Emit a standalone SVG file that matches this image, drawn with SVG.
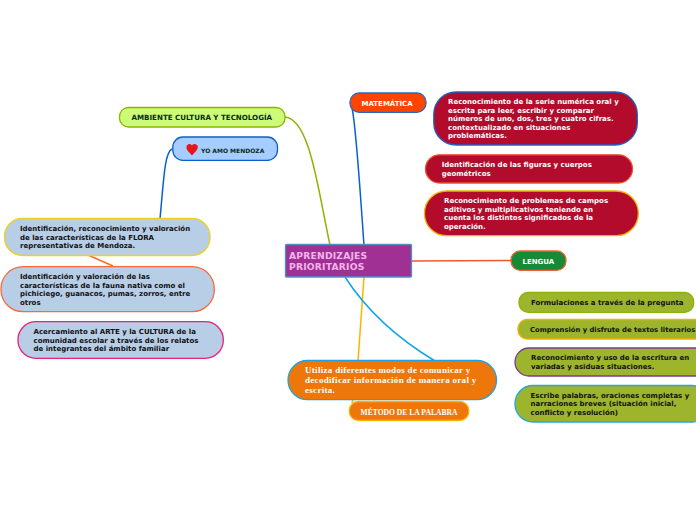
<svg xmlns="http://www.w3.org/2000/svg" width="696" height="520" viewBox="0 0 696 520">
<style>
text{font-family:"DejaVu Sans",Verdana,sans-serif;font-weight:bold;font-size:7px}
.s{font-family:"Liberation Serif","Times New Roman",serif}
.w{fill:#fff}.d{fill:#0a2a1e}.k{fill:#111}
.c{fill:none;stroke-width:1.500}
.n{stroke-width:1.300}
.blue{fill:#b8cde6}.red{fill:#b20b2c}.ol{fill:#9db52c}.or{fill:#ee770c}
</style>
<rect width="696" height="520" fill="#fff"/>
<g id="connectors">
<path class="c" stroke="#8cb400" d="M285 117C310 119 318 190 330 245"/>
<path class="c" stroke="#0a5fd0" d="M172 149C165 152 164 175 160 219"/>
<path class="c" stroke="#ff6a2a" d="M88 255L113 266"/>
<path class="c" stroke="#0a5fd0" d="M352 108C356 125 360 190 364 245"/>
<path class="c" stroke="#f05a28" d="M411 261L511 260.500"/>
<path class="c" stroke="#ffb300" d="M364 277L358 361"/>
<path class="c" stroke="#ffb300" d="M353 399L352 403"/>
<path class="c" stroke="#12a5e6" d="M345 277C365 308 395 337 435 361"/>
</g>
<g id="central"><rect class="n" x="285.500" y="244.500" width="126" height="32.500" rx="1" fill="#a03094" stroke="#4f8fc8"/>
<text x="289" y="258.500" style="font-size:9.200px" fill="#f3b4ea" letter-spacing=".2">APRENDIZAJES</text><text x="289" y="269.500" style="font-size:9.200px" fill="#f3b4ea" letter-spacing=".2">PRIORITARIOS</text></g>
<g id="ambiente"><rect class="n" x="119.500" y="107.500" width="165.500" height="19.500" rx="9" fill="#ccfb78" stroke="#8cb400"/>
<text class="d" x="131.500" y="120" style="font-size:7.100px">AMBIENTE CULTURA Y TECNOLOGÍA</text></g>
<g id="yoamo"><rect class="n" x="172.800" y="137" width="104.700" height="23.300" rx="10" fill="#a6cdfd" stroke="#0a5fd0"/>
<path d="M192 155.500C189 152 186 150 186.500 146.500C187.200 143.500 190.500 143.200 192 145.500C193.500 143.200 197 143.500 197.800 146.500C198 150 195 152 192 155.500Z" fill="#e8141c"/>
<text class="d" x="201" y="152.500" style="font-size:6px">YO AMO MENDOZA</text></g>
<g id="flora"><rect class="n blue" x="4.500" y="218.500" width="205.500" height="37" rx="18" stroke="#ecd21c"/>
<text class="k"><tspan x="20" y="231">Identificación, reconocimiento y valoración</tspan><tspan x="20" y="240">de las características de la FLORA</tspan><tspan x="20" y="248">representativas de Mendoza.</tspan></text></g>
<g id="fauna"><rect class="n blue" x="1" y="266.700" width="213.300" height="45" rx="22" stroke="#f5693a"/>
<text class="k"><tspan x="20" y="279">Identificación y valoración de las</tspan><tspan x="20" y="288">características de la fauna nativa como el</tspan><tspan x="20" y="296">pichiciego, guanacos, pumas, zorros, entre</tspan><tspan x="20" y="305">otros</tspan></text></g>
<g id="arte"><rect class="n blue" x="18" y="321.700" width="205.300" height="36.600" rx="18" stroke="#e8207c"/>
<text class="k"><tspan x="33.500" y="334">Acercamiento al ARTE y la CULTURA de la</tspan><tspan x="33.500" y="343">comunidad escolar a través de los relatos</tspan><tspan x="33.500" y="351">de integrantes del ámbito familiar</tspan></text></g>
<g id="matematica"><rect class="n" x="350" y="93" width="76" height="19.300" rx="9" fill="#ff4400" stroke="#2a68c0"/>
<text class="w" x="361.500" y="105.500">MATEMÁTICA</text></g>
<g id="m1"><rect class="n red" x="433.800" y="92" width="203.500" height="53" rx="22" stroke="#1f5fc8"/>
<text class="w"><tspan x="448" y="104">Reconocimiento de la serie numérica oral y</tspan><tspan x="448" y="113">escrita para leer, escribir y comparar</tspan><tspan x="448" y="121">números de uno, dos, tres y cuatro cifras.</tspan><tspan x="448" y="130">contextualizado en situaciones</tspan><tspan x="448" y="138">problemáticas.</tspan></text></g>
<g id="m2"><rect class="n red" x="425.500" y="154.800" width="207" height="28.200" rx="14" stroke="#f0502a"/>
<text class="w"><tspan x="441.700" y="167">Identificación de las figuras y cuerpos</tspan><tspan x="441.700" y="176">geométricos</tspan></text></g>
<g id="m3"><rect class="n red" x="424.500" y="191" width="213.800" height="44.700" rx="22" stroke="#f2b100"/>
<text class="w"><tspan x="444" y="203">Reconocimiento de problemas de campos</tspan><tspan x="444" y="212">aditivos y multiplicativos teniendo en</tspan><tspan x="444" y="220">cuenta los distintos significados de la</tspan><tspan x="444" y="229">operación.</tspan></text></g>
<g id="lengua"><rect class="n" x="511" y="251" width="55" height="19.300" rx="9" fill="#178a36" stroke="#f5603a"/>
<text class="w" x="522.500" y="263.500">LENGUA</text></g>
<g id="l1"><rect class="n ol" x="519" y="292.500" width="174.700" height="19.800" rx="9" stroke="#8cb400"/>
<text class="k" x="531" y="305">Formulaciones a través de la pregunta</text></g>
<g id="l2"><rect class="n ol" x="518" y="319.500" width="190" height="19.500" rx="9" stroke="#f2b100"/>
<text class="k" x="530" y="332" style="font-size:6.800px">Comprensión y disfrute de textos literarios</text></g>
<g id="l3"><rect class="n ol" x="515" y="348" width="195" height="28" rx="14" stroke="#7a3a90"/>
<text class="k"><tspan x="531" y="360">Reconocimiento y uso de la escritura en</tspan><tspan x="531" y="369">variadas y asiduas situaciones.</tspan></text></g>
<g id="l4"><rect class="n ol" x="515" y="385.500" width="195" height="36.500" rx="18" stroke="#22a8e0"/>
<text class="k"><tspan x="530.500" y="398">Escribe palabras, oraciones completas y</tspan><tspan x="530.500" y="406">narraciones breves (situación inicial,</tspan><tspan x="530.500" y="415">conflicto y resolución)</tspan></text></g>
<g id="utiliza"><rect class="n or" x="288" y="360.500" width="208.500" height="39.200" rx="19.500" stroke="#22a0e0"/>
<text class="w s" style="font-size:9px" letter-spacing=".3"><tspan x="305" y="373">Utiliza diferentes modos de comunicar y</tspan><tspan x="305" y="383">decodificar información de manera oral y</tspan><tspan x="305" y="392.500">escrita.</tspan></text></g>
<g id="metodo"><rect class="n or" x="349.300" y="401.500" width="119.500" height="19" rx="9" stroke="#ffb300"/>
<text class="w s" x="360.500" y="414.500" style="font-size:7.600px">MÉTODO DE LA PALABRA</text></g>
</svg>
